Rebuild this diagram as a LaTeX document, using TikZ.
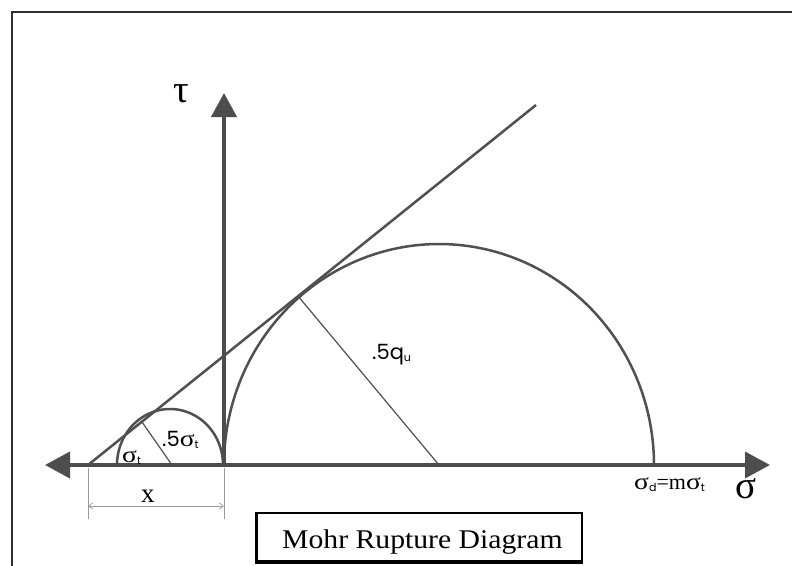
\documentclass[tikz,border=0pt]{standalone}
\usepackage{fontspec}
\usepackage{graphicx}
\setmainfont{Liberation Serif}
\newfontfamily\gothic{Poppins}
\usetikzlibrary{arrows.meta}
\definecolor{axisgray}{HTML}{4D4D4D}
\definecolor{curvegray}{HTML}{505050}
\definecolor{framecol}{HTML}{303030}
\definecolor{dimgray}{HTML}{9A9A9A}
\newcommand\lsig{{\rmfamily\fontsize{23}{23}\selectfont\scalebox{1.2}[1]{σ}}}
\newcommand\lsub[1]{\raisebox{-2.5pt}{\gothic\fontsize{11}{11}\selectfont #1}}
\begin{document}
\begin{tikzpicture}[x=1pt,y=-1pt,
  axis/.style={draw=axisgray, line width=4pt},
  curve/.style={draw=curvegray, line width=2.5pt},
  thinline/.style={draw=curvegray, line width=1.2pt},
  dimline/.style={draw=dimgray, line width=0.7pt},
  lbl/.style={inner sep=0pt, text=black, anchor=base west},
  gl/.style={lbl, font=\gothic\fontsize{21}{22}\selectfont},
  big/.style={lbl, font=\fontsize{39}{44}\selectfont}
]
\useasboundingbox (0,0) rectangle (792,565);
\fill[white] (0,0) rectangle (792,565);
% frame
\coordinate (F1) at (12,570);
\coordinate (F2) at (12,12);
\coordinate (F3) at (797,12);
\draw[framecol, line width=2.5pt] (F1) -- (F2) -- (F3);
% key points
\coordinate (O) at (224,465);
\coordinate (L) at (45,465);
\coordinate (R) at (770,465);
\coordinate (T) at (224,93);
\coordinate (A) at (88,465);
\coordinate (B) at (536,105);
\coordinate (cs) at (172,465);
\coordinate (cb) at (439,465);
\coordinate (ts) at (142,422);
\coordinate (tb) at (298,296);
% circles
\draw[curve] plot[domain=0:180,samples=120,smooth] ({170+53*cos(\x)},{465-56*sin(\x)});
\draw[curve] plot[domain=0:180,samples=200,smooth] ({439+215*cos(\x)},{465-221*sin(\x)});
% tangent line
\draw[curve] (A) -- (B);
% radii
\draw[thinline] (ts) -- (cs);
\draw[thinline] (tb) -- (cb);
% axes
\draw[axis, {Triangle[length=25pt,width=26pt]}-{Triangle[length=25pt,width=26pt]}] (L) -- (R);
\draw[axis, -{Triangle[length=24pt,width=25pt]}] (224,467) -- (T);
% dimension
\coordinate (d1a) at (88,468);
\coordinate (d1b) at (88,519);
\coordinate (d2a) at (224,468);
\coordinate (d2b) at (224,519);
\coordinate (d1) at (88,506);
\coordinate (d2) at (224,506);
\draw[dimline] (d1a) -- (d1b);
\draw[dimline] (d2a) -- (d2b);
\draw[dimline, {Straight Barb[length=4pt,width=6pt]}-{Straight Barb[length=4pt,width=6pt]}] (d1) -- (d2);
\node[lbl, font=\fontsize{27}{28}\selectfont] (xl) at (141,502) {x};
% labels
\node[big] (tau) at (173,102) {τ};
\node[big] (sig) at (735,498) {σ};
\node[gl] (qu) at (372,359) {.5q\lsub{u}};
\node[gl] (hs) at (162,446) {.5\lsig\lsub{t}};
\node[gl] (st) at (122,462) {\lsig\lsub{t}};
\node[gl] (sd) at (634,489) {\lsig\lsub{d}{\rmfamily\fontsize{22}{22}\selectfont =m}\lsig\lsub{t}};
% title box
\node[draw=black, line width=2pt, minimum width=325pt, minimum height=48pt, inner sep=0pt] (box) at (419.5,537) {};
\draw[black, line width=3pt] (box.north west) -- (box.south west) -- (box.south east);
\node[lbl, font=\fontsize{27}{30}\selectfont] (title) at (282,548) {\scalebox{1.1}[1]{Mohr Rupture Diagram}};
\end{tikzpicture}
\end{document}
